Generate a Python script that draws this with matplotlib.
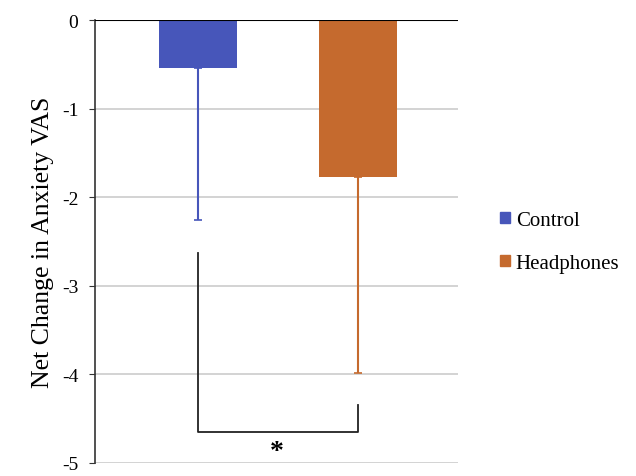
import matplotlib.pyplot as plt
from matplotlib.patches import Patch

groups = ['Control', 'Headphones']
means = [-0.54, -1.77]
err_low = [1.72, 2.21]  # error bars only go downward
colors = ['#4756BA', '#C56A2E']

# significance bracket (y levels)
bracket_left_top = -2.63
bracket_right_top = -4.35
bracket_bottom = -4.65
star_y = -4.87

plt.rcParams['font.family'] = ['Liberation Serif', 'DejaVu Serif']

fig = plt.figure(figsize=(6.36, 4.77), dpi=100)
ax = fig.add_axes([95/636, 1 - 464/477, (458-95)/636, (464-21)/477])

x = [0, 1]
ax.bar(x, means, width=0.49, color=colors, zorder=2)
for xi, m, e, c in zip(x, means, err_low, colors):
    ax.errorbar(xi, m, yerr=[[e], [0]], fmt='none', ecolor=c, elinewidth=1.5,
                capsize=3, capthick=1.2, zorder=3)

ax.plot([0, 0, 1, 1], [bracket_left_top, bracket_bottom, bracket_bottom, bracket_right_top],
        color='#222222', lw=1.3, zorder=3)
ax.text(0.49, star_y, '*', ha='center', va='center', fontsize=20, fontweight='bold')

ax.set_xlim(-0.65, 1.63)
ax.set_ylim(-5, 0)
ax.set_yticks([0, -1, -2, -3, -4, -5])
ax.set_yticklabels(['0', '-1', '-2', '-3', '-4', '-5'], fontsize=14)
ax.set_xticks([])
ax.yaxis.grid(True, color='#cccccc', lw=1.2, zorder=0)
ax.set_axisbelow(True)
for s in ['top', 'right', 'bottom']:
    ax.spines[s].set_visible(False)
ax.spines['left'].set_color('#333333')
ax.spines['left'].set_linewidth(1.2)
ax.tick_params(axis='y', length=4, color='#333333', pad=8)
ax.axhline(0, color='black', lw=1.5, zorder=4)
ax.set_ylabel('Net Change in Anxiety VAS', fontsize=18.5, labelpad=6)

handles = [Patch(color=c) for c in colors]
fig.legend(handles, groups, loc='center left', bbox_to_anchor=(0.757, 0.49),
           frameon=False, fontsize=15, handlelength=0.45, handleheight=0.45,
           handletextpad=0.3, labelspacing=1.15)

fig.savefig('out.png', dpi=100)
